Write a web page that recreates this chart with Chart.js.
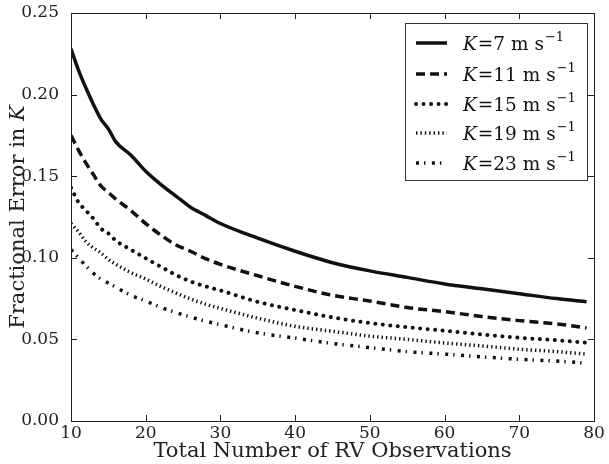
<!DOCTYPE html>
<html>
<head>
<meta charset="utf-8">
<script src="https://cdn.jsdelivr.net/npm/chart.js@4"></script>
<style>
  html, body { margin: 0; padding: 0; background: #fff; }
  #wrap { width: 609px; height: 464px; position: relative; }
</style>
</head>
<body>
<div id="wrap"><canvas id="errChart"></canvas></div>
<script>
// observations (x) and fractional error per semi-amplitude K
const nObs = [10, 11, 12, 13, 14, 15, 16, 18, 20, 22, 24, 26, 28, 30, 35, 40, 45, 50, 55, 60, 65, 70, 75, 79];
const errK7  = [0.228, 0.215, 0.204, 0.194, 0.185, 0.179, 0.171, 0.163, 0.153, 0.145, 0.138, 0.131, 0.126, 0.121, 0.112, 0.104, 0.097, 0.092, 0.088, 0.084, 0.081, 0.078, 0.075, 0.073];
const errK11 = [0.175, 0.166, 0.158, 0.151, 0.144, 0.140, 0.136, 0.129, 0.121, 0.114, 0.108, 0.104, 0.0995, 0.096, 0.089, 0.0825, 0.077, 0.0735, 0.0695, 0.067, 0.064, 0.0615, 0.0595, 0.057];
const errK15 = [0.143, 0.134, 0.129, 0.124, 0.118, 0.115, 0.1105, 0.105, 0.0997, 0.0946, 0.0896, 0.0855, 0.0825, 0.080, 0.073, 0.068, 0.0635, 0.060, 0.0575, 0.0553, 0.053, 0.051, 0.0495, 0.048];
const errK19 = [0.121, 0.116, 0.110, 0.106, 0.103, 0.099, 0.096, 0.091, 0.087, 0.0825, 0.0785, 0.0748, 0.0716, 0.069, 0.063, 0.058, 0.055, 0.052, 0.050, 0.0478, 0.046, 0.044, 0.0425, 0.041];
const errK23 = [0.105, 0.100, 0.095, 0.0905, 0.087, 0.0845, 0.082, 0.077, 0.0735, 0.0697, 0.0665, 0.0637, 0.0612, 0.059, 0.054, 0.0508, 0.0475, 0.045, 0.0425, 0.041, 0.0393, 0.0378, 0.0367, 0.0355];
const kValues = ['7', '11', '15', '19', '23'];
const xTicks = [10, 20, 30, 40, 50, 60, 70, 80];
const yTicks = [0.00, 0.05, 0.10, 0.15, 0.20, 0.25];

const serif = '"DejaVu Serif", serif';
const lineStyles = [
  { dash: [], cap: 'butt', width: 3.5 },
  { dash: [9, 5], cap: 'butt', width: 3.5 },
  { dash: [0.01, 7.5], cap: 'round', width: 4 },
  { dash: [1.4, 3], cap: 'butt', width: 3.5 },
  { dash: [3, 5, 1.4, 6.5], cap: 'butt', width: 3.5 }
];
const series = [errK7, errK11, errK15, errK19, errK23];

const datasets = series.map((vals, i) => ({
  label: 'K=' + kValues[i] + ' m s-1',
  data: nObs.map((n, j) => ({ x: n, y: vals[j] })),
  borderColor: '#111',
  borderWidth: lineStyles[i].width,
  borderDash: lineStyles[i].dash,
  borderCapStyle: lineStyles[i].cap,
  pointRadius: 0,
  cubicInterpolationMode: 'monotone',
  fill: false
}));

// matplotlib-ish frame, inward ticks, y title and math legend
const framePlugin = {
  id: 'frame',
  afterDraw(chart) {
    const ctx = chart.ctx;
    const { left, right, top, bottom } = chart.chartArea;
    const xs = chart.scales.x, ys = chart.scales.y;
    ctx.save();
    ctx.strokeStyle = '#222';
    ctx.lineWidth = 1;
    ctx.setLineDash([]);
    ctx.strokeRect(Math.round(left) + 0.5, Math.round(top) + 0.5, Math.round(right - left), Math.round(bottom - top));
    ctx.beginPath();
    xTicks.forEach(v => {
      const px = Math.round(xs.getPixelForValue(v)) + 0.5;
      ctx.moveTo(px, bottom); ctx.lineTo(px, bottom - 6);
      ctx.moveTo(px, top); ctx.lineTo(px, top + 6);
    });
    yTicks.forEach(v => {
      const py = Math.round(ys.getPixelForValue(v)) + 0.5;
      ctx.moveTo(left, py); ctx.lineTo(left + 6, py);
      ctx.moveTo(right, py); ctx.lineTo(right - 6, py);
    });
    ctx.stroke();

    // y axis title with italic K
    ctx.save();
    ctx.translate(24, (top + bottom) / 2);
    ctx.rotate(-Math.PI / 2);
    ctx.fillStyle = '#222';
    ctx.textBaseline = 'alphabetic';
    const t1 = 'Fractional Error in ';
    ctx.font = '21px ' + serif;
    const w1 = ctx.measureText(t1).width;
    ctx.font = 'italic 21px ' + serif;
    const w2 = ctx.measureText('K').width;
    let tx = -(w1 + w2) / 2;
    ctx.font = '21px ' + serif;
    ctx.fillText(t1, tx, 0);
    ctx.font = 'italic 21px ' + serif;
    ctx.fillText('K', tx + w1, 0);
    ctx.restore();

    // legend box
    const bx = 405, by = 23, bw = 182, bh = 157;
    ctx.fillStyle = '#fff';
    ctx.fillRect(bx, by, bw, bh);
    ctx.strokeStyle = '#333';
    ctx.lineWidth = 1;
    ctx.strokeRect(bx + 0.5, by + 0.5, bw, bh);
    const rowY = [43, 74, 104, 133, 163];
    ctx.textBaseline = 'alphabetic';
    kValues.forEach((k, i) => {
      const y = rowY[i];
      const st = lineStyles[i];
      ctx.beginPath();
      ctx.strokeStyle = '#111';
      ctx.lineWidth = st.width;
      ctx.lineCap = st.cap;
      ctx.setLineDash(st.dash);
      ctx.moveTo(416, y); ctx.lineTo(447, y);
      ctx.stroke();
      ctx.setLineDash([]);
      ctx.lineCap = 'butt';
      ctx.fillStyle = '#111';
      let x = 463;
      const base = y + 7;
      ctx.font = 'italic 18.5px ' + serif;
      ctx.fillText('K', x, base);
      x += ctx.measureText('K').width + 1;
      ctx.font = '18.5px ' + serif;
      const mid = '=' + k + ' m s';
      ctx.fillText(mid, x, base);
      x += ctx.measureText(mid).width;
      ctx.font = '13px ' + serif;
      ctx.fillText('\u22121', x + 1, base - 9);
    });
    ctx.restore();
  }
};

new Chart(document.getElementById('errChart'), {
  type: 'line',
  data: { datasets },
  options: {
    responsive: true,
    maintainAspectRatio: false,
    animation: false,
    layout: { padding: { top: 13, right: 15, left: 0, bottom: 0 } },
    plugins: { legend: { display: false }, tooltip: { enabled: false } },
    scales: {
      x: {
        type: 'linear',
        min: 10, max: 80,
        afterBuildTicks: s => { s.ticks = xTicks.map(v => ({ value: v })); },
        afterFit: s => { s.height = 43; s.paddingLeft = 0; s.paddingRight = 0; },
        grid: { display: false, drawTicks: false },
        border: { display: false },
        ticks: { color: '#222', font: { family: serif, size: 17 }, padding: 2, maxRotation: 0 },
        title: { display: true, text: 'Total Number of RV Observations', color: '#222', font: { family: serif, size: 21 }, padding: { top: 0, bottom: 0 } }
      },
      y: {
        min: 0, max: 0.25,
        afterBuildTicks: s => { s.ticks = yTicks.map(v => ({ value: v })); },
        afterFit: s => { s.width = 71; s.paddingTop = 0; s.paddingBottom = 0; },
        grid: { display: false, drawTicks: false },
        border: { display: false },
        ticks: { color: '#222', font: { family: serif, size: 17 }, padding: 12, callback: v => v.toFixed(2) }
      }
    }
  },
  plugins: [framePlugin]
});
</script>
</body>
</html>
